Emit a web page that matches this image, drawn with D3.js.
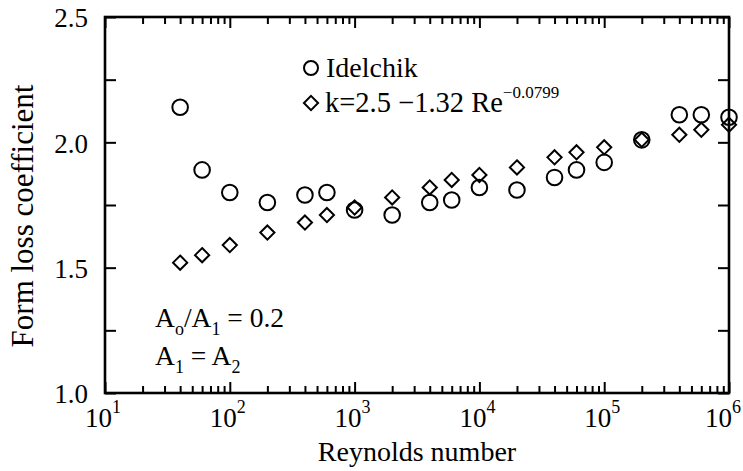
<!DOCTYPE html>
<html>
<head>
<meta charset="utf-8">
<script src="https://cdn.jsdelivr.net/npm/d3@7"></script>
<style>
  body { margin: 0; background: #fff; }
  text { font-family: "Liberation Serif", "Times New Roman", serif; fill: #000; }
</style>
</head>
<body>
<div id="chart"></div>
<script>
// Values
let reynolds = [40, 60, 100, 200, 400, 600, 1e3, 2e3, 4e3, 6e3, 1e4, 2e4, 4e4, 6e4, 1e5, 2e5, 4e5, 6e5, 1e6]
let idelchik = [2.14, 1.89, 1.80, 1.76, 1.79, 1.80, 1.73, 1.71, 1.76, 1.77, 1.82, 1.81, 1.86, 1.89, 1.92, 2.01, 2.11, 2.11, 2.10]
let correlation = [1.52, 1.55, 1.59, 1.64, 1.68, 1.71, 1.74, 1.78, 1.82, 1.85, 1.87, 1.90, 1.94, 1.96, 1.98, 2.01, 2.03, 2.05, 2.07]
let decades = [1, 2, 3, 4, 5, 6]
let yTicks = [1, 1.25, 1.5, 1.75, 2, 2.25, 2.5]

let width = 743
let height = 471
// plot frame (named so as not to clash with window.top)
let plotL = 105, plotR = 729, plotT = 17, plotB = 393

let svg = d3.select("#chart").append("svg")
    .attr("width", width)
    .attr("height", height)

let x = d3.scaleLog().domain([10, 1e6]).range([plotL, plotR])
let y = d3.scaleLinear().domain([1, 2.5]).range([plotB, plotT])

// minor ticks at 2..9 in every decade
let minor = []
decades.slice(0, -1).forEach((d) => {
  for (let k = 2; k <= 9; k++) minor.push(k * Math.pow(10, d))
})
let major = decades.map((d) => Math.pow(10, d))

function styleAxis(g) {
  g.select(".domain").remove()
  g.selectAll("line").attr("stroke", "#000").attr("stroke-width", 2)
}

// bottom + top ticks, pointing inward
svg.append("g").attr("transform", "translate(0," + plotB + ")")
    .call(d3.axisBottom(x).tickValues(minor).tickSize(-7).tickFormat("")).call(styleAxis)
svg.append("g").attr("transform", "translate(0," + plotB + ")")
    .call(d3.axisBottom(x).tickValues(major).tickSize(-11).tickFormat("")).call(styleAxis)
svg.append("g").attr("transform", "translate(0," + plotT + ")")
    .call(d3.axisTop(x).tickValues(minor).tickSize(-7).tickFormat("")).call(styleAxis)
svg.append("g").attr("transform", "translate(0," + plotT + ")")
    .call(d3.axisTop(x).tickValues(major).tickSize(-11).tickFormat("")).call(styleAxis)

// left + right ticks
let yl = svg.append("g").attr("transform", "translate(" + plotL + ",0)")
    .call(d3.axisLeft(y).tickValues(yTicks).tickSize(-11).tickPadding(17)
      .tickFormat((d) => (d * 2) % 1 === 0 ? d3.format(".1f")(d) : ""))
    .call(styleAxis)
yl.attr("font-family", null)
yl.selectAll("text").attr("font-size", 27).attr("dy", "0.36em")
svg.append("g").attr("transform", "translate(" + plotR + ",0)")
    .call(d3.axisRight(y).tickValues(yTicks).tickSize(-11).tickFormat("")).call(styleAxis)

// x tick labels 10^n (last one nudged so it stays on the page)
let xl = svg.append("g").selectAll("text")
    .data(decades)
    .enter().append("text")
    .attr("x", (d) => x(Math.pow(10, d)) - (d === 6 ? 6 : 2))
    .attr("y", 427)
    .attr("text-anchor", "middle")
    .attr("font-size", 27)
xl.append("tspan").text("10")
xl.append("tspan").attr("dy", -14).attr("font-size", 18).text((d) => d)

// frame
svg.append("rect")
    .attr("x", plotL).attr("y", plotT)
    .attr("width", plotR - plotL).attr("height", plotB - plotT)
    .attr("fill", "none").attr("stroke", "#000").attr("stroke-width", 2.6)

// axis titles
svg.append("text")
    .attr("x", (plotL + plotR) / 2).attr("y", 461)
    .attr("text-anchor", "middle").attr("font-size", 28)
    .text("Reynolds number")
svg.append("text")
    .attr("transform", "translate(33,216) rotate(-90)")
    .attr("text-anchor", "middle").attr("font-size", 31)
    .text("Form loss coefficient")

let diamond = d3.symbol().type(d3.symbolDiamond2).size(128)

// data markers
svg.append("g").selectAll("circle")
    .data(reynolds)
    .enter().append("circle")
    .attr("cx", (d) => x(d))
    .attr("cy", (d, i) => y(idelchik[i]))
    .attr("r", 7.8)
    .attr("fill", "none").attr("stroke", "#000").attr("stroke-width", 2)

svg.append("g").selectAll("path")
    .data(reynolds)
    .enter().append("path")
    .attr("d", diamond)
    .attr("transform", (d, i) => "translate(" + x(d) + "," + y(correlation[i]) + ")")
    .attr("fill", "none").attr("stroke", "#000").attr("stroke-width", 2)

// legend
svg.append("circle").attr("cx", 311).attr("cy", 68).attr("r", 7)
    .attr("fill", "none").attr("stroke", "#000").attr("stroke-width", 2)
svg.append("text").attr("x", 326).attr("y", 77).attr("font-size", 28).text("Idelchik")
svg.append("path").attr("d", diamond)
    .attr("transform", "translate(311,103)")
    .attr("fill", "none").attr("stroke", "#000").attr("stroke-width", 2)
let eq = svg.append("text").attr("x", 325).attr("y", 112).attr("font-size", 28.5)
eq.append("tspan").text("k=2.5 \u22121.32 Re")
eq.append("tspan").attr("dy", -14).attr("font-size", 17).text("\u22120.0799")

// annotation
let a1 = svg.append("text").attr("x", 155).attr("y", 327).attr("font-size", 27.5)
a1.append("tspan").text("A")
a1.append("tspan").attr("dy", 8).attr("font-size", 18).text("o")
a1.append("tspan").attr("dy", -8).text("/A")
a1.append("tspan").attr("dy", 8).attr("font-size", 18).text("1")
a1.append("tspan").attr("dy", -8).text(" = 0.2")
let a2 = svg.append("text").attr("x", 155).attr("y", 365).attr("font-size", 27.5)
a2.append("tspan").text("A")
a2.append("tspan").attr("dy", 8).attr("font-size", 18).text("1")
a2.append("tspan").attr("dy", -8).text(" = A")
a2.append("tspan").attr("dy", 8).attr("font-size", 18).text("2")
</script>
</body>
</html>
